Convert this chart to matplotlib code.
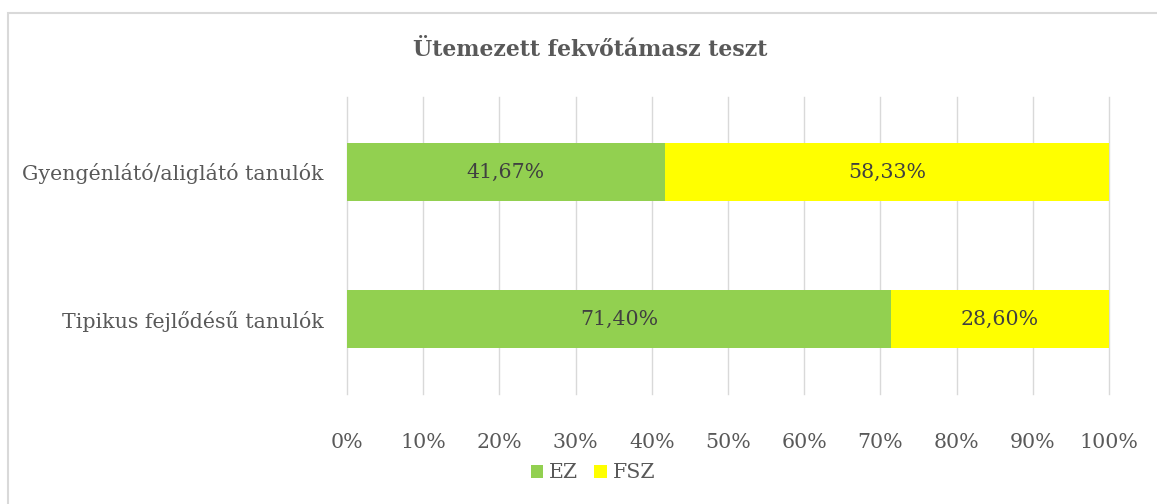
import matplotlib
matplotlib.use("Agg")
import matplotlib.pyplot as plt
from matplotlib.patches import Rectangle

categories = ["Tipikus fejlődésű tanulók", "Gyengénlátó/aliglátó tanulók"]
series_names = ["EZ", "FSZ"]
ez_values = [71.40, 41.67]
fsz_values = [28.60, 58.33]
value_labels_ez = ["71,40%", "41,67%"]
value_labels_fsz = ["28,60%", "58,33%"]
tick_values = [0, 10, 20, 30, 40, 50, 60, 70, 80, 90, 100]
tick_labels = [f"{v}%" for v in tick_values]

colors = ["#92d050", "#ffff00"]
text_gray = "#595959"
FONT = "DejaVu Serif"
FS = 14.8

W, H = 1157, 504
fig = plt.figure(figsize=(W / 100, H / 100), dpi=100)
fig.patch.set_facecolor("white")

# chart frame
fig.patches.append(Rectangle((7.5 / W, -0.05), (W + 10) / W, (H - 12.5) / H + 0.05,
                             transform=fig.transFigure, fill=False,
                             edgecolor="#d9d9d9", linewidth=1.5))

ax = fig.add_axes([347 / W, 1 - 394 / H, (1109 - 347) / W, (394 - 97) / H])
y = [0, 1]
h = 0.40
b1 = ax.barh(y, ez_values, height=h, color=colors[0], label=series_names[0], zorder=3)
b2 = ax.barh(y, fsz_values, left=ez_values, height=h, color=colors[1],
             label=series_names[1], zorder=3)

for i in range(len(y)):
    ax.text(ez_values[i] / 2, y[i], value_labels_ez[i], ha="center", va="center",
            fontsize=FS, color="#404040", family=FONT, zorder=4)
    ax.text(ez_values[i] + fsz_values[i] / 2, y[i], value_labels_fsz[i], ha="center",
            va="center", fontsize=FS, color="#404040", family=FONT, zorder=4)

ax.set_xlim(0, 100)
ax.set_ylim(-0.51, 1.51)
ax.set_xticks(tick_values)
ax.set_xticklabels(tick_labels, family=FONT, fontsize=FS, color=text_gray)
ax.set_yticks(y)
ax.set_yticklabels(categories, family=FONT, fontsize=FS, color=text_gray)
ax.tick_params(length=0)
ax.tick_params(axis="y", pad=17)
ax.tick_params(axis="x", pad=28)
ax.xaxis.grid(True, color="#d9d9d9", linewidth=1, zorder=0)
for gl in ax.get_xgridlines():
    gl.set_clip_on(False)
for s in ax.spines.values():
    s.set_visible(False)

fig.text(590 / W, 1 - 50 / H, "Ütemezett fekvőtámasz teszt", ha="center", va="center",
         fontsize=15.8, fontweight="bold", color=text_gray, family=FONT)

fig.legend(handles=[b1, b2], labels=series_names, loc="center",
           bbox_to_anchor=(593 / W, 1 - 473 / H), ncol=2, frameon=False,
           prop={"family": FONT, "size": FS}, labelcolor=text_gray,
           handlelength=0.6, handleheight=0.6, handletextpad=0.3, columnspacing=0.8)

fig.savefig("out.png", dpi=100)
